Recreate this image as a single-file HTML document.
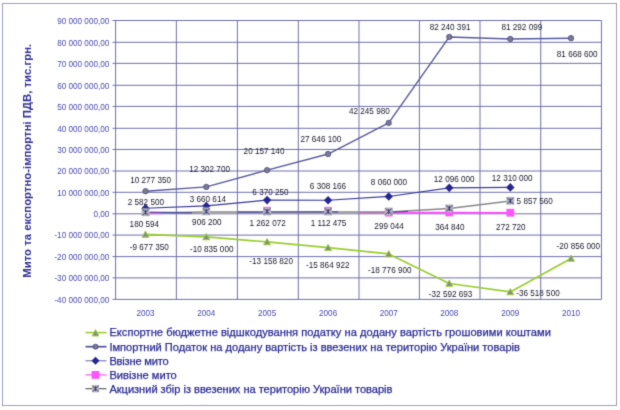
<!DOCTYPE html><html><head><meta charset="utf-8"><style>html,body{margin:0;padding:0;background:#fff;width:620px;height:410px;overflow:hidden}svg{display:block}</style></head><body>
<svg width="620" height="410" viewBox="0 0 620 410">
<defs><filter id="bl" x="-2%" y="-2%" width="104%" height="104%"><feConvolveMatrix order="3" kernelMatrix="1 6 1 6 36 6 1 6 1" edgeMode="duplicate" preserveAlpha="false"/></filter></defs>
<rect x="0" y="0" width="620" height="410" fill="#fff"/>
<g filter="url(#bl)">
<rect x="2.5" y="3.5" width="614" height="402" fill="none" stroke="#9c9cc8" stroke-width="1"/>
<path d="M112.5 20.50H601.50 M112.5 42.30H601.50 M112.5 63.37H601.50 M112.5 85.30H601.50 M112.5 106.40H601.50 M112.5 128.30H601.50 M112.5 149.45H601.50 M112.5 171.00H601.50 M112.5 192.30H601.50 M112.5 213.80H601.50 M112.5 235.10H601.50 M112.5 256.60H601.50 M112.5 277.90H601.50 M112.5 299.40H601.50 M115.60 20.50V299.40 M176.35 20.50V299.40 M237.40 20.50V299.40 M298.30 20.50V299.40 M359.00 20.50V299.40 M419.40 20.50V299.40 M480.00 20.50V299.40 M540.74 20.50V299.40 M601.45 20.50V299.40" stroke="#7070ac" stroke-width="1" fill="none"/>
<g font-family="Liberation Sans, Arial, sans-serif" font-size="8.6" fill="#4a4aaa" text-anchor="end">
<text transform="translate(109.3 23.70) scale(0.95 1)">90 000 000,00</text>
<text transform="translate(109.3 45.50) scale(0.95 1)">80 000 000,00</text>
<text transform="translate(109.3 66.57) scale(0.95 1)">70 000 000,00</text>
<text transform="translate(109.3 88.50) scale(0.95 1)">60 000 000,00</text>
<text transform="translate(109.3 109.60) scale(0.95 1)">50 000 000,00</text>
<text transform="translate(109.3 131.50) scale(0.95 1)">40 000 000,00</text>
<text transform="translate(109.3 152.65) scale(0.95 1)">30 000 000,00</text>
<text transform="translate(109.3 174.20) scale(0.95 1)">20 000 000,00</text>
<text transform="translate(109.3 195.50) scale(0.95 1)">10 000 000,00</text>
<text transform="translate(109.3 217.00) scale(0.95 1)">0,00</text>
<text transform="translate(109.3 238.30) scale(0.95 1)">-10 000 000,00</text>
<text transform="translate(109.3 259.80) scale(0.95 1)">-20 000 000,00</text>
<text transform="translate(109.3 281.10) scale(0.95 1)">-30 000 000,00</text>
<text transform="translate(109.3 302.60) scale(0.95 1)">-40 000 000,00</text>
</g>
<g font-family="Liberation Sans, Arial, sans-serif" font-size="8.6" fill="#4a4aaa" text-anchor="middle">
<text transform="translate(145.50 316.2) scale(0.95 1)">2003</text>
<text transform="translate(206.30 316.2) scale(0.95 1)">2004</text>
<text transform="translate(267.10 316.2) scale(0.95 1)">2005</text>
<text transform="translate(328.10 316.2) scale(0.95 1)">2006</text>
<text transform="translate(388.70 316.2) scale(0.95 1)">2007</text>
<text transform="translate(449.30 316.2) scale(0.95 1)">2008</text>
<text transform="translate(510.30 316.2) scale(0.95 1)">2009</text>
<text transform="translate(571.00 316.2) scale(0.95 1)">2010</text>
</g>
<text transform="translate(31.2,160.8) rotate(-90)" text-anchor="middle" font-family="Liberation Sans, Arial, sans-serif" font-weight="bold" font-size="11.35" fill="#333399">Мито та експортно-імпортні ПДВ, тис.грн.</text>
<polyline points="145.50,234.41 206.30,236.90 267.10,241.89 328.10,247.71 388.70,253.97 449.30,283.47 510.30,291.91 571.00,258.42" fill="none" stroke="#9acd32" stroke-width="1.7" stroke-linejoin="round"/>
<polyline points="145.50,191.21 206.30,186.90 267.10,170.16 328.10,154.02 388.70,122.88 449.30,36.92 510.30,38.98 571.00,38.16" fill="none" stroke="#5a5aa0" stroke-width="1.45" stroke-linejoin="round"/>
<polyline points="145.50,208.25 206.30,205.93 267.10,200.10 328.10,200.24 388.70,196.47 449.30,187.84 510.30,187.38" fill="none" stroke="#3a3a9c" stroke-width="1.2" stroke-linejoin="round"/>
<polyline points="359.00,212.90 388.70,212.60 449.30,212.40 510.30,212.70" fill="none" stroke="#ff44ff" stroke-width="1.5"/>
<polyline points="145.50,212.90 206.30,212.00 267.10,212.10 328.10,212.10 388.70,212.10 449.30,208.60 510.30,201.00" fill="none" stroke="#888888" stroke-width="1.5"/>
<path d="M149.6 212.2L160.8 212.4L192 212.8M237.4 212.1L267 212.0L329 211.9L338 211.9M390 212.0L408 211.4" stroke="#4c4c9c" stroke-width="1.2" fill="none"/>
<line x1="149.6" y1="213.5" x2="160.8" y2="213.5" stroke="#ff44ff" stroke-width="1.2"/>
<path d="M145.50 231.01L149.00 237.31L142.00 237.31Z" fill="#858c80" stroke="#9acd32" stroke-width="0.9"/>
<path d="M206.30 233.50L209.80 239.80L202.80 239.80Z" fill="#858c80" stroke="#9acd32" stroke-width="0.9"/>
<path d="M267.10 238.49L270.60 244.79L263.60 244.79Z" fill="#858c80" stroke="#9acd32" stroke-width="0.9"/>
<path d="M328.10 244.31L331.60 250.61L324.60 250.61Z" fill="#858c80" stroke="#9acd32" stroke-width="0.9"/>
<path d="M388.70 250.57L392.20 256.87L385.20 256.87Z" fill="#858c80" stroke="#9acd32" stroke-width="0.9"/>
<path d="M449.30 280.07L452.80 286.37L445.80 286.37Z" fill="#858c80" stroke="#9acd32" stroke-width="0.9"/>
<path d="M510.30 288.51L513.80 294.81L506.80 294.81Z" fill="#858c80" stroke="#9acd32" stroke-width="0.9"/>
<path d="M571.00 255.02L574.50 261.32L567.50 261.32Z" fill="#858c80" stroke="#9acd32" stroke-width="0.9"/>
<circle cx="145.50" cy="191.21" r="2.7" fill="#7a7a90" stroke="#4a4a8a" stroke-width="0.8"/>
<circle cx="206.30" cy="186.90" r="2.7" fill="#7a7a90" stroke="#4a4a8a" stroke-width="0.8"/>
<circle cx="267.10" cy="170.16" r="2.7" fill="#7a7a90" stroke="#4a4a8a" stroke-width="0.8"/>
<circle cx="328.10" cy="154.02" r="2.7" fill="#7a7a90" stroke="#4a4a8a" stroke-width="0.8"/>
<circle cx="388.70" cy="122.88" r="2.7" fill="#7a7a90" stroke="#4a4a8a" stroke-width="0.8"/>
<circle cx="449.30" cy="36.92" r="2.7" fill="#7a7a90" stroke="#4a4a8a" stroke-width="0.8"/>
<circle cx="510.30" cy="38.98" r="2.7" fill="#7a7a90" stroke="#4a4a8a" stroke-width="0.8"/>
<circle cx="571.00" cy="38.16" r="2.7" fill="#7a7a90" stroke="#4a4a8a" stroke-width="0.8"/>
<rect x="263.20" y="206.80" width="7.8" height="7.8" fill="#ff55ff"/>
<rect x="324.20" y="206.80" width="7.8" height="7.8" fill="#ff55ff"/>
<rect x="384.80" y="208.70" width="7.8" height="7.8" fill="#ff55ff"/>
<rect x="445.40" y="208.50" width="7.8" height="7.8" fill="#ff55ff"/>
<rect x="506.40" y="208.80" width="7.8" height="7.8" fill="#ff55ff"/>
<path d="M145.50 203.95L149.70 208.25L145.50 212.55L141.30 208.25Z" fill="#262690"/>
<path d="M206.30 201.63L210.50 205.93L206.30 210.23L202.10 205.93Z" fill="#262690"/>
<path d="M267.10 195.80L271.30 200.10L267.10 204.40L262.90 200.10Z" fill="#262690"/>
<path d="M328.10 195.94L332.30 200.24L328.10 204.54L323.90 200.24Z" fill="#262690"/>
<path d="M388.70 192.17L392.90 196.47L388.70 200.77L384.50 196.47Z" fill="#262690"/>
<path d="M449.30 183.54L453.50 187.84L449.30 192.14L445.10 187.84Z" fill="#262690"/>
<path d="M510.30 183.08L514.50 187.38L510.30 191.68L506.10 187.38Z" fill="#262690"/>
<rect x="141.60" y="208.40" width="7.8" height="7.8" fill="#b2b2bb"/>
<path d="M142.50 209.30L148.50 215.30M148.50 209.30L142.50 215.30M145.50 209.80V214.80" stroke="#2a2a78" stroke-width="1" fill="none"/>
<rect x="202.40" y="207.50" width="7.8" height="7.8" fill="#b2b2bb"/>
<path d="M203.30 208.40L209.30 214.40M209.30 208.40L203.30 214.40M206.30 208.90V213.90" stroke="#2a2a78" stroke-width="1" fill="none"/>
<rect x="263.20" y="207.60" width="7.8" height="7.8" fill="#b2b2bb"/>
<path d="M264.10 208.50L270.10 214.50M270.10 208.50L264.10 214.50M267.10 209.00V214.00" stroke="#2a2a78" stroke-width="1" fill="none"/>
<rect x="324.20" y="207.60" width="7.8" height="7.8" fill="#b2b2bb"/>
<path d="M325.10 208.50L331.10 214.50M331.10 208.50L325.10 214.50M328.10 209.00V214.00" stroke="#2a2a78" stroke-width="1" fill="none"/>
<rect x="384.80" y="207.60" width="7.8" height="7.8" fill="#b2b2bb"/>
<path d="M385.70 208.50L391.70 214.50M391.70 208.50L385.70 214.50M388.70 209.00V214.00" stroke="#2a2a78" stroke-width="1" fill="none"/>
<rect x="445.40" y="204.50" width="7.8" height="7.8" fill="#b2b2bb"/>
<path d="M446.30 205.40L452.30 211.40M452.30 205.40L446.30 211.40M449.30 205.90V210.90" stroke="#2a2a78" stroke-width="1" fill="none"/>
<rect x="506.40" y="196.90" width="7.8" height="7.8" fill="#b2b2bb"/>
<path d="M507.30 197.80L513.30 203.80M513.30 197.80L507.30 203.80M510.30 198.30V203.30" stroke="#2a2a78" stroke-width="1" fill="none"/>
<g font-family="Liberation Sans, Arial, sans-serif" font-size="8.6" fill="#202030" text-anchor="middle">
<text transform="translate(150.60 182.50) scale(0.95 1)">10 277 350</text>
<text transform="translate(209.55 172.20) scale(0.95 1)">12 302 700</text>
<text transform="translate(264.00 154.20) scale(0.95 1)">20 157 140</text>
<text transform="translate(320.90 142.30) scale(0.95 1)">27 646 100</text>
<text transform="translate(369.35 114.00) scale(0.95 1)">42 245 980</text>
<text transform="translate(450.05 29.60) scale(0.95 1)">82 240 391</text>
<text transform="translate(521.85 30.00) scale(0.95 1)">81 292 099</text>
<text transform="translate(577.20 56.70) scale(0.95 1)">81 668 600</text>
<text transform="translate(145.85 205.00) scale(0.95 1)">2 582 500</text>
<text transform="translate(207.80 202.00) scale(0.95 1)">3 660 614</text>
<text transform="translate(270.50 194.80) scale(0.95 1)">6 370 250</text>
<text transform="translate(328.00 189.00) scale(0.95 1)">6 308 166</text>
<text transform="translate(389.00 185.30) scale(0.95 1)">8 060 000</text>
<text transform="translate(454.20 182.00) scale(0.95 1)">12 096 000</text>
<text transform="translate(512.20 181.40) scale(0.95 1)">12 310 000</text>
<text transform="translate(144.35 227.40) scale(0.95 1)">180 594</text>
<text transform="translate(206.85 225.40) scale(0.95 1)">906 200</text>
<text transform="translate(267.60 226.20) scale(0.95 1)">1 262 072</text>
<text transform="translate(328.55 226.20) scale(0.95 1)">1 112 475</text>
<text transform="translate(389.10 229.40) scale(0.95 1)">299 044</text>
<text transform="translate(449.90 229.90) scale(0.95 1)">364 840</text>
<text transform="translate(510.85 229.90) scale(0.95 1)">272 720</text>
<text transform="translate(534.75 204.20) scale(0.95 1)">5 857 560</text>
<text transform="translate(149.30 249.90) scale(0.95 1)">-9 677 350</text>
<text transform="translate(211.70 251.80) scale(0.95 1)">-10 835 000</text>
<text transform="translate(271.15 263.60) scale(0.95 1)">-13 158 820</text>
<text transform="translate(327.80 267.80) scale(0.95 1)">-15 864 922</text>
<text transform="translate(389.80 273.30) scale(0.95 1)">-18 776 900</text>
<text transform="translate(450.60 297.20) scale(0.95 1)">-32 592 693</text>
<text transform="translate(537.95 295.50) scale(0.95 1)">-36 518 500</text>
<text transform="translate(578.35 249.30) scale(0.95 1)">-20 856 000</text>
</g>
<line x1="85.5" y1="332.6" x2="106.5" y2="332.6" stroke="#9acd32" stroke-width="1.6"/>
<line x1="85.5" y1="346.7" x2="106.5" y2="346.7" stroke="#5a5aa0" stroke-width="1.8"/>
<line x1="85.5" y1="360.8" x2="106.5" y2="360.8" stroke="#6464b0" stroke-width="1"/>
<line x1="85.5" y1="374.9" x2="106.5" y2="374.9" stroke="#ff44ff" stroke-width="1.1"/>
<line x1="85.5" y1="388.7" x2="106.5" y2="388.7" stroke="#606060" stroke-width="1.2"/>
<path d="M95.50 329.60L98.90 336.00L92.10 336.00Z" fill="#858c80" stroke="#9acd32" stroke-width="0.9"/>
<circle cx="95.50" cy="346.70" r="2.5" fill="#7a7a90" stroke="#3a3a8a" stroke-width="0.8"/>
<path d="M95.50 356.80L99.50 360.80L95.50 364.80L91.50 360.80Z" fill="#262690"/>
<rect x="91.60" y="371.00" width="7.8" height="7.8" fill="#ff55ff"/>
<rect x="91.90" y="385.10" width="7.2" height="7.2" fill="#b2b2bb"/>
<path d="M92.70 385.90L98.30 391.50M98.30 385.90L92.70 391.50M95.50 386.30V391.10" stroke="#2a2a78" stroke-width="1" fill="none"/>
<g font-family="Liberation Sans, Arial, sans-serif" font-size="11.1" fill="#2a2a92" stroke="#2a2a92" stroke-width="0.25">
<text x="109.4" y="336.40" textLength="441.5" lengthAdjust="spacing">Експортне бюджетне відшкодування податку на додану вартість грошовими коштами</text>
<text x="109.4" y="350.50" textLength="410.5" lengthAdjust="spacing">Імпортний Податок на додану вартість із ввезених на територію України товарів</text>
<text x="109.4" y="364.60" textLength="59.3" lengthAdjust="spacing">Ввізне мито</text>
<text x="109.4" y="378.70">Вивізне мито</text>
<text x="109.4" y="392.50" textLength="283.0" lengthAdjust="spacing">Акцизний збір із ввезених на територію України товарів</text>
</g>
</g></svg></body></html>
